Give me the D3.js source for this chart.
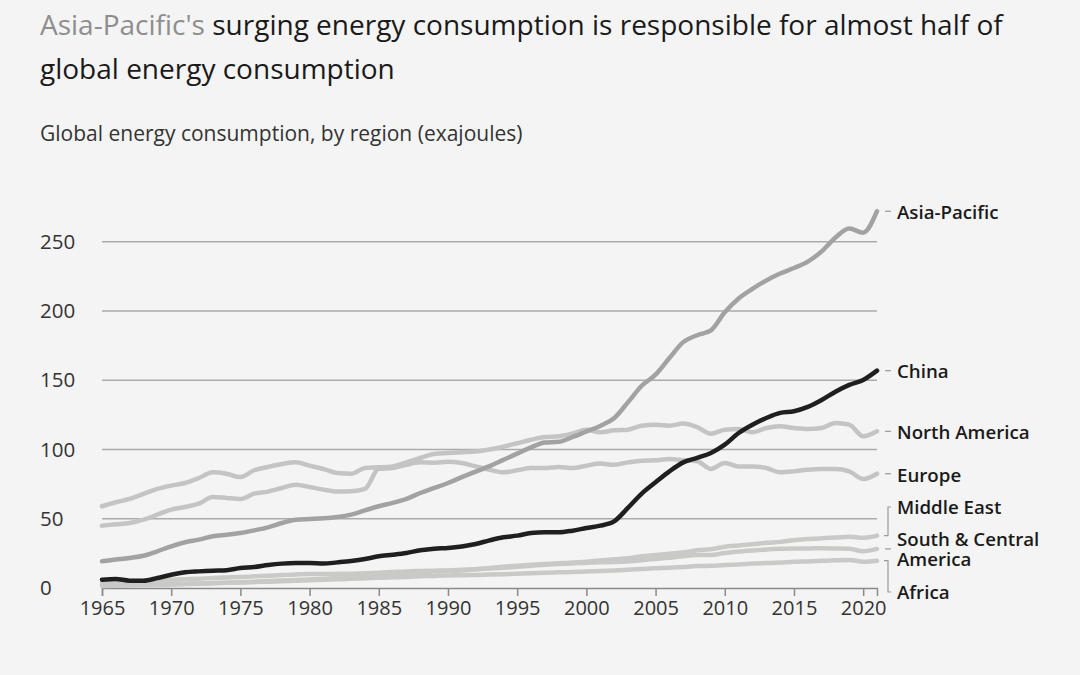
<!DOCTYPE html>
<html>
<head>
<meta charset="utf-8">
<script src="https://cdn.jsdelivr.net/npm/d3@7/dist/d3.min.js"></script>
<style>
  html, body { margin: 0; padding: 0; background: #f4f4f4; }
  svg { display: block; }
</style>
</head>
<body>
<svg id="chart" width="1080" height="675"></svg>
<script>
const years = d3.range(1965, 2022);

const asiaPacific = [19.3,20.5,21.7,23.3,26.5,30.1,33,34.9,37.3,38.5,39.7,41.6,43.8,46.9,49.3,49.8,50.3,51.3,53,56,59,61.4,64.3,68.6,72.2,75.8,80,84,88,92.5,97,101.5,105,105.5,109,113,117,122.5,134,146,154,166,177.5,182.5,186,199,209,216,222,227,231,235.6,243,253,259.5,256.5,272];
const china = [6,6.5,5.3,5.3,7.2,9.6,11.3,12,12.5,12.8,14.4,15.2,16.6,17.6,18,18,17.6,18.5,19.5,20.9,22.9,24,25.3,27.2,28.4,28.9,30,31.8,34.4,36.6,37.8,39.7,40.2,40.2,41.4,43.3,45,48.1,57.8,68.1,76.3,84.2,90.7,93.9,97.5,103.5,111.9,117.9,122.7,126.4,127.6,130.7,135.7,141.7,146.6,150.2,156.9];
const northAmerica = [59,61.9,64.3,67.9,71.5,73.9,75.8,79.4,83.5,82.5,80.1,85,87.4,89.5,90.7,88.3,85.9,83,82.5,86.6,87.1,87.8,90.7,93.9,96.8,97.5,98,98.5,100,102,104.5,107,109,109.5,111.5,114.3,112.4,113.8,114.3,117.2,117.9,117.2,118.7,116.2,111.4,114.3,114.8,112.4,115.5,116.7,115.5,114.8,115.5,119.1,117.9,109.5,113.1];
const europe = [45,46,46.9,49.3,53,56.6,58.5,60.9,65.7,65,64.3,68.1,69.6,72.2,74.6,72.9,71,69.6,69.8,71.5,86,86.6,89,90.7,90.5,91.2,90.3,87.8,85.4,83.5,85,86.6,86.6,87.4,86.6,88.3,89.8,89,90.7,91.9,92.2,93.1,92.2,91.5,85.9,90.3,87.8,87.8,86.6,83.5,84.2,85.4,85.9,85.9,84.2,78.7,82.5];
const middleEast = [1.5,1.7,1.8,2.0,2.2,2.5,2.8,3.1,3.5,3.8,4.1,4.6,5.0,5.4,5.7,6.1,6.6,7.3,8.0,8.8,9.4,9.9,10.5,11.2,11.9,12.2,12.6,13.6,14.5,15.3,16.0,16.7,17.3,17.8,18.4,19.0,19.8,20.7,21.4,22.9,23.8,24.8,25.7,27.2,28.0,29.8,30.7,31.6,32.6,33.3,34.5,35.3,36.0,36.4,37.0,36.2,37.8];
const southCentralAmerica = [4.5,4.7,4.9,5.2,5.5,5.9,6.3,6.7,7.2,7.6,7.9,8.4,8.8,9.3,9.8,10.1,10.1,10.2,10.3,10.7,11.1,11.6,12.0,12.3,12.5,12.7,13.1,13.5,14.0,14.6,15.3,16.0,16.8,17.4,17.7,18.3,18.6,18.7,19.1,20.1,21.0,21.9,23.0,23.8,23.8,25.3,26.3,27.1,27.8,28.3,28.6,28.6,28.7,28.6,28.4,26.5,28.2];
const africa = [2.0,2.1,2.2,2.4,2.6,2.8,3.1,3.3,3.6,3.8,4.0,4.3,4.6,4.9,5.3,5.6,6.0,6.3,6.6,7.0,7.4,7.7,8.0,8.4,8.7,9.0,9.2,9.4,9.7,10.0,10.3,10.6,11.0,11.3,11.6,12.0,12.3,12.7,13.2,13.8,14.3,14.6,15.2,15.8,16.0,16.6,16.9,17.6,18.0,18.4,18.9,19.2,19.6,20.0,20.3,19.0,19.7];

const yTicks = [0, 50, 100, 150, 200, 250];
const xTicks = [1965,1970,1975,1980,1985,1990,1995,2000,2005,2010,2015,2020];

const titleHighlight = "Asia-Pacific's";
const titleRest1 = " surging energy consumption is responsible for almost half of";
const titleLine2 = "global energy consumption";
const subtitle = "Global energy consumption, by region (exajoules)";

// series drawn in back-to-front order; label lines listed per series
const series = [
  {name: "Africa", values: africa, color: "#c9cac8", labelLines: ["Africa"], labelY: [592]},
  {name: "South & Central America", values: southCentralAmerica, color: "#c9cac8", labelLines: ["South & Central", "America"], labelY: [539, 559]},
  {name: "Middle East", values: middleEast, color: "#c9cac8", labelLines: ["Middle East"], labelY: [507]},
  {name: "Europe", values: europe, color: "#c4c4c4", labelLines: ["Europe"], labelY: [475]},
  {name: "North America", values: northAmerica, color: "#c4c4c4", labelLines: ["North America"], labelY: [432]},
  {name: "Asia-Pacific", values: asiaPacific, color: "#a2a2a2", labelLines: ["Asia-Pacific"], labelY: [212]},
  {name: "China", values: china, color: "#1f1f1f", labelLines: ["China"], labelY: [371]}
];

const svg = d3.select("#chart");
const font = "'Open Sans', 'DejaVu Sans', sans-serif";

const x = d3.scaleLinear().domain([1965, 2021]).range([102, 877]);
const y = d3.scaleLinear().domain([0, 250]).range([588, 241.7]);

// Title
const t1 = svg.append("text").attr("x", 40).attr("y", 35)
  .attr("font-family", font).attr("font-size", 28).attr("fill", "#1a1a1a");
t1.append("tspan").attr("fill", "#8e8e8e").text(titleHighlight);
t1.append("tspan").text(titleRest1);
svg.append("text").attr("x", 40).attr("y", 79)
  .attr("font-family", font).attr("font-size", 28).attr("fill", "#1a1a1a")
  .text(titleLine2);
svg.append("text").attr("x", 40).attr("y", 141)
  .attr("font-family", font).attr("font-size", 21).attr("fill", "#333")
  .text(subtitle);

// Grid
svg.append("g").selectAll("line").data(yTicks.filter(d => d > 0)).join("line")
  .attr("x1", x(1965)).attr("x2", x(2021))
  .attr("y1", d => y(d)).attr("y2", d => y(d))
  .attr("stroke", "#ababab").attr("stroke-width", 1.5);

svg.append("g").selectAll("text").data(yTicks).join("text")
  .attr("x", 40).attr("y", d => y(d)).attr("dy", "0.35em")
  .attr("font-family", font).attr("font-size", 20.5).attr("fill", "#333")
  .text(d => d);

// X axis
const xAxis = d3.axisBottom(x).tickValues(xTicks).tickFormat(d3.format("d"))
  .tickSize(8).tickPadding(5);
const gx = svg.append("g").attr("transform", `translate(0,${y(0)})`).call(xAxis);
gx.select(".domain").attr("stroke", "#8a8a8a").attr("stroke-width", 1.5);
gx.selectAll(".tick line").attr("stroke", "#8a8a8a").attr("stroke-width", 1.5);
gx.selectAll(".tick text").attr("font-family", font).attr("font-size", 20).attr("fill", "#333");

// Lines
const line = d3.line().x((d, i) => x(years[i])).y(d => y(d)).curve(d3.curveMonotoneX);
svg.append("g").selectAll("path").data(series).join("path")
  .attr("d", d => line(d.values))
  .attr("fill", "none").attr("stroke", d => d.color)
  .attr("stroke-width", 4.5).attr("stroke-linecap", "round").attr("stroke-linejoin", "round");

// Labels
const lx = 897;
const last = s => y(s.values[s.values.length - 1]);
const labG = svg.append("g");
const connColor = "#9a9a9a";
series.forEach(s => {
  const ey = last(s);
  if (s.name === "Middle East" || s.name === "Africa") {
    labG.append("path").attr("d", `M884,${ey} H888 V${s.labelY[0]} H891`)
      .attr("fill", "none").attr("stroke", connColor).attr("stroke-width", 1.2);
  } else {
    labG.append("line").attr("x1", 885).attr("x2", 891).attr("y1", ey).attr("y2", ey)
      .attr("stroke", connColor).attr("stroke-width", 1.2);
  }
  s.labelLines.forEach((t, i) => {
    labG.append("text").attr("x", lx).attr("y", s.labelY[i]).attr("dy", "0.35em")
      .attr("font-family", font).attr("font-size", 18.7).attr("font-weight", 600)
      .attr("fill", "#1a1a1a").text(t);
  });
});
</script>
</body>
</html>
